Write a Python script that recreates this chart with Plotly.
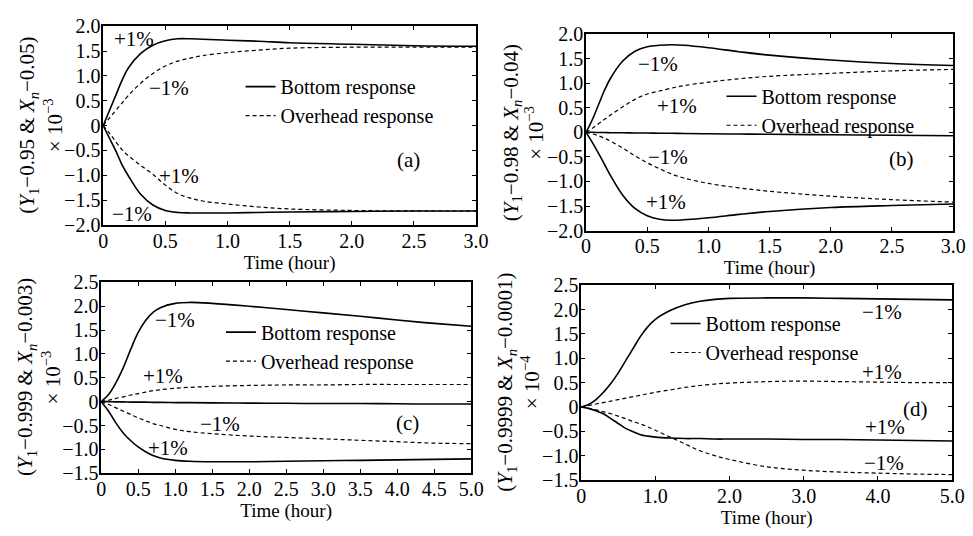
import plotly.graph_objects as go

# ---------------- data ----------------
a_t = [0, 0.05, 0.1, 0.15, 0.2, 0.3, 0.4, 0.5, 0.6, 0.7, 0.8, 1.0, 1.25, 1.5, 2.0, 2.5, 3.0]
a_bottom_up = [0, 0.3, 0.6, 0.9, 1.15, 1.45, 1.62, 1.71, 1.75, 1.75, 1.74, 1.72, 1.70, 1.67, 1.64, 1.61, 1.60]
a_overhead_up = [0, 0.15, 0.3, 0.45, 0.6, 0.85, 1.05, 1.2, 1.3, 1.36, 1.41, 1.47, 1.52, 1.56, 1.58, 1.58, 1.58]
a_bottom_down = [0, -0.25, -0.5, -0.78, -1.0, -1.38, -1.6, -1.71, -1.75, -1.76, -1.76, -1.76, -1.75, -1.74, -1.73, -1.72, -1.72]
a_overhead_down = [0, -0.15, -0.32, -0.48, -0.6, -0.8, -0.98, -1.2, -1.37, -1.46, -1.52, -1.58, -1.64, -1.68, -1.71, -1.72, -1.72]

b_t = [0, 0.05, 0.1, 0.15, 0.2, 0.3, 0.4, 0.5, 0.6, 0.7, 0.8, 1.0, 1.25, 1.5, 2.0, 2.5, 3.0]
b_bottom_up = [0, 0.25, 0.55, 0.85, 1.1, 1.45, 1.65, 1.74, 1.77, 1.78, 1.77, 1.72, 1.64, 1.57, 1.47, 1.40, 1.36]
b_overhead_up = [0, 0.08, 0.17, 0.26, 0.35, 0.52, 0.67, 0.78, 0.84, 0.9, 0.95, 1.02, 1.09, 1.14, 1.2, 1.25, 1.28]
b_bottom_mid = [0, 0, -0.005, -0.005, -0.01, -0.01, -0.015, -0.015, -0.02, -0.02, -0.025, -0.03, -0.035, -0.04, -0.05, -0.06, -0.07]
b_overhead_down = [0, -0.03, -0.07, -0.12, -0.18, -0.32, -0.48, -0.62, -0.74, -0.85, -0.93, -1.04, -1.13, -1.2, -1.3, -1.37, -1.42]
b_bottom_down = [0, -0.2, -0.42, -0.65, -0.88, -1.28, -1.55, -1.7, -1.77, -1.79, -1.78, -1.74, -1.67, -1.61, -1.53, -1.49, -1.46]

c_t = [0, 0.1, 0.2, 0.3, 0.4, 0.5, 0.6, 0.7, 0.8, 1.0, 1.2, 1.5, 2.0, 2.5, 3.0, 3.5, 4.0, 4.5, 5.0]
c_bottom_up = [0, 0.15, 0.4, 0.72, 1.1, 1.45, 1.7, 1.87, 1.97, 2.06, 2.08, 2.06, 2.0, 1.93, 1.86, 1.79, 1.71, 1.64, 1.58]
c_overhead_up = [0, 0.03, 0.07, 0.1, 0.14, 0.17, 0.2, 0.23, 0.25, 0.28, 0.3, 0.32, 0.34, 0.35, 0.35, 0.36, 0.36, 0.36, 0.36]
c_bottom_mid = [0, 0, -0.005, -0.005, -0.01, -0.01, -0.01, -0.015, -0.015, -0.02, -0.02, -0.025, -0.03, -0.035, -0.04, -0.04, -0.045, -0.05, -0.05]
c_overhead_down = [0, -0.06, -0.13, -0.2, -0.27, -0.34, -0.4, -0.46, -0.5, -0.58, -0.63, -0.67, -0.72, -0.75, -0.78, -0.81, -0.84, -0.87, -0.88]
c_bottom_down = [0, -0.2, -0.45, -0.66, -0.82, -0.95, -1.05, -1.13, -1.18, -1.23, -1.25, -1.26, -1.26, -1.25, -1.24, -1.23, -1.22, -1.21, -1.2]

d_t = [0, 0.1, 0.2, 0.3, 0.4, 0.5, 0.6, 0.7, 0.8, 0.9, 1.0, 1.2, 1.4, 1.6, 1.8, 2.0, 2.5, 3.0, 3.5, 4.0, 4.5, 5.0]
d_bottom_up = [0, 0.05, 0.15, 0.3, 0.48, 0.7, 0.95, 1.2, 1.45, 1.65, 1.8, 1.98, 2.1, 2.17, 2.21, 2.23, 2.24, 2.24, 2.23, 2.22, 2.21, 2.2]
d_overhead_up = [0, 0.03, 0.06, 0.09, 0.12, 0.15, 0.18, 0.21, 0.24, 0.27, 0.3, 0.35, 0.4, 0.44, 0.47, 0.49, 0.52, 0.53, 0.52, 0.51, 0.5, 0.5]
d_bottom_down = [0, -0.03, -0.08, -0.14, -0.24, -0.34, -0.44, -0.51, -0.57, -0.6, -0.62, -0.64, -0.65, -0.65, -0.66, -0.66, -0.66, -0.67, -0.67, -0.68, -0.69, -0.7]
d_overhead_down = [0, -0.03, -0.06, -0.1, -0.14, -0.19, -0.24, -0.3, -0.35, -0.41, -0.48, -0.62, -0.76, -0.9, -1.0, -1.08, -1.23, -1.3, -1.34, -1.36, -1.38, -1.39]

x3_ticks = [0, 0.5, 1.0, 1.5, 2.0, 2.5, 3.0]
x3_text = ["0", "0.5", "1.0", "1.5", "2.0", "2.5", "3.0"]
xc_ticks = [0, 0.5, 1.0, 1.5, 2.0, 2.5, 3.0, 3.5, 4.0, 4.5, 5.0]
xc_text = ["0", "0.5", "1.0", "1.5", "2.0", "2.5", "3.0", "3.5", "4.0", "4.5", "5.0"]
xd_ticks = [0, 1.0, 2.0, 3.0, 4.0, 5.0]
xd_text = ["0", "1.0", "2.0", "3.0", "4.0", "5.0"]
y20_ticks = [2.0, 1.5, 1.0, 0.5, 0, -0.5, -1.0, -1.5, -2.0]
y20_text = ["2.0", "1.5", "1.0", "0.5", "0", "−0.5", "−1.0", "−1.5", "−2.0"]
y25_ticks = [2.5, 2.0, 1.5, 1.0, 0.5, 0, -0.5, -1.0, -1.5]
y25_text = ["2.5", "2.0", "1.5", "1.0", "0.5", "0", "−0.5", "−1.0", "−1.5"]

FONT = "Liberation Serif, Times New Roman, serif"
W, H = 973, 536

fig = go.Figure()

panels = [
    ("x", "y", "legend", a_t, [(a_bottom_up, "solid", "Bottom response"),
                               (a_overhead_up, "dashed", "Overhead response"),
                               (a_bottom_down, "solid", None),
                               (a_overhead_down, "dashed", None)]),
    ("x2", "y2", "legend2", b_t, [(b_bottom_up, "solid", "Bottom response"),
                                  (b_overhead_up, "dashed", "Overhead response"),
                                  (b_bottom_mid, "solid", None),
                                  (b_overhead_down, "dashed", None),
                                  (b_bottom_down, "solid", None)]),
    ("x3", "y3", "legend3", c_t, [(c_bottom_up, "solid", "Bottom response"),
                                  (c_overhead_up, "dashed", "Overhead response"),
                                  (c_bottom_mid, "solid", None),
                                  (c_overhead_down, "dashed", None),
                                  (c_bottom_down, "solid", None)]),
    ("x4", "y4", "legend4", d_t, [(d_bottom_up, "solid", "Bottom response"),
                                  (d_overhead_up, "dashed", "Overhead response"),
                                  (d_bottom_down, "solid", None),
                                  (d_overhead_down, "dashed", None)]),
]

for xa, ya, lg, t, curves in panels:
    for y, dash, name in curves:
        fig.add_trace(go.Scatter(
            x=t, y=y, mode="lines", xaxis=xa, yaxis=ya,
            line=dict(color="black", width=1.6 if dash == "solid" else 1.2,
                      dash="solid" if dash == "solid" else "4px,3px", shape="spline"),
            name=name if name else "", showlegend=bool(name), legend=lg,
            hoverinfo="skip"))

dom = [(100, 480, 16, 223), (592, 966, 24, 229), (98, 475, 283, 482), (587, 965, 286, 489)]
xticks = [(x3_ticks, x3_text, [0, 3]), (x3_ticks, x3_text, [0, 3]),
          (xc_ticks, xc_text, [0, 5]), (xd_ticks, xd_text, [0, 5])]
yticks = [(y20_ticks, y20_text, [-2, 2]), (y20_ticks, y20_text, [-2, 2]),
          (y25_ticks, y25_text, [-1.5, 2.5]), (y25_ticks, y25_text, [-1.5, 2.5])]

axis_common = dict(showline=True, linecolor="black", linewidth=1.5, mirror="ticks",
                   ticks="inside", ticklen=4, tickwidth=1.2, tickcolor="black",
                   showgrid=False, zeroline=False,
                   tickfont=dict(family=FONT, size=20, color="black"))

layout = {}
for i, ((l, r, tp, bt), (xtv, xtt, xr), (ytv, ytt, yr)) in enumerate(zip(dom, xticks, yticks)):
    sfx = "" if i == 0 else str(i + 1)
    layout["xaxis" + sfx] = dict(domain=[l / W, r / W], range=xr, tickvals=xtv, ticktext=xtt,
                                 anchor="y" + sfx, ticklabelstandoff=-3,
                                 title=dict(text="Time (hour)", standoff=0,
                                            font=dict(family=FONT, size=19, color="black")),
                                 **axis_common)
    layout["yaxis" + sfx] = dict(domain=[1 - bt / H, 1 - tp / H], range=yr, tickvals=ytv,
                                 ticktext=ytt, anchor="x" + sfx, ticklabelstandoff=-3,
                                 **axis_common)

legend_pos = [(240, 94), (730, 104), (220, 350), (673, 341)]
for i, (lx, ly) in enumerate(legend_pos):
    key = "legend" if i == 0 else "legend" + str(i + 1)
    layout[key] = dict(x=lx / W, y=1 - ly / H, xanchor="left", yanchor="middle",
                       bgcolor="rgba(0,0,0,0)", borderwidth=0,
                       font=dict(family=FONT, size=20, color="black"))

fig.update_layout(width=W, height=H, margin=dict(l=0, r=0, t=0, b=0),
                  paper_bgcolor="white", plot_bgcolor="white", **layout)

labels = [
    ("x", "y", [(0.25, 1.75, "+1%"), (0.53, 0.75, "−1%"), (0.61, -1.02, "+1%"),
                (0.23, -1.79, "−1%"), (2.46, -0.69, "(a)")]),
    ("x2", "y2", [(0.585, 1.39, "−1%"), (0.74, 0.53, "+1%"), (0.67, -0.51, "−1%"),
                  (0.65, -1.41, "+1%"), (2.58, -0.55, "(b)")]),
    ("x3", "y3", [(1.0, 1.71, "−1%"), (0.83, 0.54, "+1%"), (1.6, -0.46, "−1%"),
                  (0.9, -0.98, "+1%"), (4.14, -0.44, "(c)")]),
    ("x4", "y4", [(4.05, 1.95, "−1%"), (4.05, 0.71, "+1%"), (4.5, -0.04, "(d)"),
                  (4.1, -0.41, "+1%"), (4.08, -1.16, "−1%")]),
]
for xa, ya, items in labels:
    for x, y, txt in items:
        fig.add_annotation(x=x, y=y, xref=xa, yref=ya, text=txt, showarrow=False,
                           font=dict(family=FONT, size=21, color="black"))

ytitles = [
    ("0.95", "0.05", "−3", 24, 49, 119),
    ("0.98", "0.04", "−3", 516, 540, 127),
    ("0.999", "0.003", "−3", 22, 47, 382),
    ("0.9999", "0.0001", "−4", 511, 535, 387),
]
for y1, xn, ex, x1, x2, yc in ytitles:
    fig.add_annotation(x=x1 / W, y=1 - yc / H, xref="paper", yref="paper", textangle=-90,
                       text=f"(<i>Y</i><sub>1</sub>−{y1} & <i>X<sub>n</sub></i>−{xn})",
                       showarrow=False, xanchor="center", yanchor="middle",
                       font=dict(family=FONT, size=21, color="black"))
    fig.add_annotation(x=x2 / W, y=1 - yc / H, xref="paper", yref="paper", textangle=-90,
                       text=f"× 10<sup>{ex}</sup>",
                       showarrow=False, xanchor="center", yanchor="middle",
                       font=dict(family=FONT, size=21, color="black"))

fig.write_html("out.html")
